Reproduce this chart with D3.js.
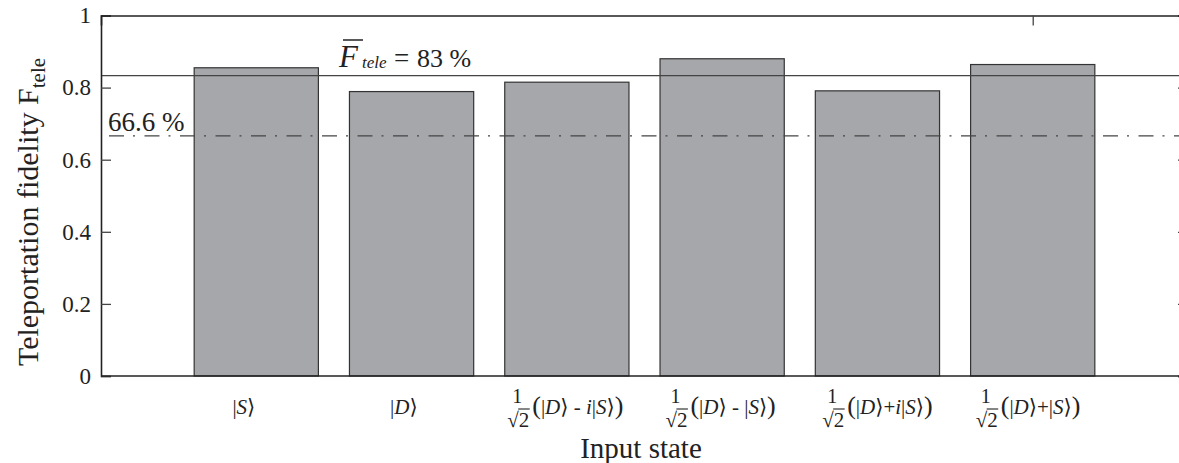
<!DOCTYPE html>
<html>
<head>
<meta charset="utf-8">
<script src="https://cdn.jsdelivr.net/npm/d3@7"></script>
<style>
  body { margin: 0; background: #fff; }
  text { font-family: "Liberation Serif", "DejaVu Serif", serif; fill: #222; }
</style>
</head>
<body>
<svg id="chart" width="1179" height="463"></svg>
<script>
// data
let states = ["|S⟩", "|D⟩", "(|D⟩ - i|S⟩)", "(|D⟩ - |S⟩)", "(|D⟩+i|S⟩)", "(|D⟩+|S⟩)"];
let hasPrefactor = [false, false, true, true, true, true];
let fidelity = [0.855, 0.789, 0.815, 0.880, 0.791, 0.864];
let labelPos = [0.92, 1.95, 2.99, 3.99, 5.0, 5.97];
let yTicks = [0, 0.2, 0.4, 0.6, 0.8, 1];
let meanFidelity = 0.833;
let classicalLimit = 0.666;

let svg = d3.select('#chart');

let x = d3.scaleLinear().domain([0, 7]).range([101, 1188]);
let y = d3.scaleLinear().domain([0, 1]).range([376, 15.5]);
let barW = 0.8;

// bottom ticks sit under the bars
svg.append('g')
    .attr('transform', 'translate(0,' + y(0) + ')')
    .call(d3.axisBottom(x).tickValues([1, 2, 3, 4, 5, 6]).tickSize(-10).tickFormat(''))
    .call(g => g.select('.domain').remove())
    .selectAll('line').attr('stroke', '#444');

// bars
svg.append('g')
    .selectAll('rect')
    .data(fidelity)
    .enter()
    .append('rect')
    .attr('x', (d, i) => x(i + 1 - barW / 2))
    .attr('width', x(barW) - x(0))
    .attr('y', d => y(d))
    .attr('height', d => y(0) - y(d))
    .style('fill', '#a6a7ab')
    .style('stroke', '#333')
    .style('stroke-width', 1.2);

// mean fidelity line
svg.append('line')
    .attr('x1', x(0)).attr('x2', x(7))
    .attr('y1', y(meanFidelity)).attr('y2', y(meanFidelity))
    .style('stroke', '#444').style('stroke-width', 1.3);

// 66.6 % classical limit, dash-dot
svg.append('line')
    .attr('x1', x(0)).attr('x2', x(7))
    .attr('y1', y(classicalLimit)).attr('y2', y(classicalLimit))
    .style('stroke', '#444').style('stroke-width', 1.3)
    .style('stroke-dasharray', '15,9,2,9.5')
    .style('stroke-dashoffset', -8);

// frame
let leftAxis = svg.append('g')
    .attr('transform', 'translate(' + x(0) + ',0)')
    .call(d3.axisLeft(y).tickValues(yTicks).tickSize(-10).tickPadding(10)
        .tickFormat(d => String(d)));
leftAxis.attr('font-family', '"Liberation Serif", serif')
    .selectAll('text')
    .style('font-family', '"Liberation Serif", serif')
    .style('font-size', '23px')
    .style('fill', '#222');

let rightAxis = svg.append('g')
    .attr('transform', 'translate(' + x(7) + ',0)')
    .call(d3.axisRight(y).tickValues(yTicks).tickSize(-10).tickFormat(''));

let topAxis = svg.append('g')
    .attr('transform', 'translate(0,' + y(1) + ')')
    .call(d3.axisTop(x).tickValues([6]).tickSize(-10).tickFormat(''));

svg.append('line')
    .attr('x1', x(0)).attr('x2', x(7))
    .attr('y1', y(0)).attr('y2', y(0))
    .style('stroke', '#222').style('stroke-width', 1.6);

svg.selectAll('.domain').attr('stroke', '#222').attr('stroke-width', 1.6);
[leftAxis, rightAxis, topAxis].forEach(a =>
    a.selectAll('.tick line').attr('stroke', '#444').attr('stroke-width', 1.3));

// annotations
let ann = svg.append('text').attr('y', 67);
ann.append('tspan').attr('x', 339).style('font-style', 'italic').style('font-size', '31px').text('F');
ann.append('tspan').attr('x', 362).attr('dy', 1).style('font-style', 'italic').style('font-size', '17px').text('tele');
ann.append('tspan').attr('x', 394).attr('dy', -1).style('font-size', '27px').text('=');
ann.append('tspan').attr('x', 417).style('font-size', '26px').text('83 %');
svg.append('line')
    .attr('x1', 343).attr('x2', 363).attr('y1', 40).attr('y2', 40)
    .style('stroke', '#222').style('stroke-width', 1.5);

svg.append('text')
    .attr('x', 108).attr('y', 131)
    .style('font-size', '27px')
    .text('66.6 %');

// category labels
function drawKet(t, body, size) {
    for (let ch of body) {
        let s = t.append('tspan').text(ch);
        if (/[SDi]/.test(ch)) s.style('font-style', 'italic');
        if (ch === '(' || ch === ')') s.style('font-size', (size + 5) + 'px');
    }
}

let ketSize = 21;
let labels = svg.append('g');
states.forEach(function (body, i) {
    let g = labels.append('g');
    let cx = 0;
    if (hasPrefactor[i]) {
        g.append('text').attr('x', 10).attr('y', 403)
            .attr('text-anchor', 'middle').style('font-size', '20px').text('1');
        let r = g.append('text').attr('x', 0).attr('y', 427).style('font-size', '21px').text('√2');
        let w = r.node().getComputedTextLength();
        g.append('line').attr('x1', w * 0.5).attr('x2', w + 0.5).attr('y1', 409).attr('y2', 409)
            .style('stroke', '#222').style('stroke-width', 1.1);
        cx = w + 3;
    }
    let t = g.append('text').attr('x', cx).attr('y', 414).style('font-size', ketSize + 'px');
    drawKet(t, body, ketSize);
    let bb = g.node().getBBox();
    g.attr('transform', 'translate(' + (x(labelPos[i]) - bb.x - bb.width / 2) + ',0)');
});

// axis titles
let yl = svg.append('text')
    .attr('transform', 'translate(38,' + 212 + ') rotate(-90)')
    .attr('text-anchor', 'middle')
    .style('font-size', '30px');
yl.append('tspan').text('Teleportation fidelity F');
yl.append('tspan').attr('dy', 7).style('font-size', '21px').text('tele');

svg.append('text')
    .attr('x', 641).attr('y', 458)
    .attr('text-anchor', 'middle')
    .style('font-size', '29px')
    .text('Input state');
</script>
</body>
</html>
